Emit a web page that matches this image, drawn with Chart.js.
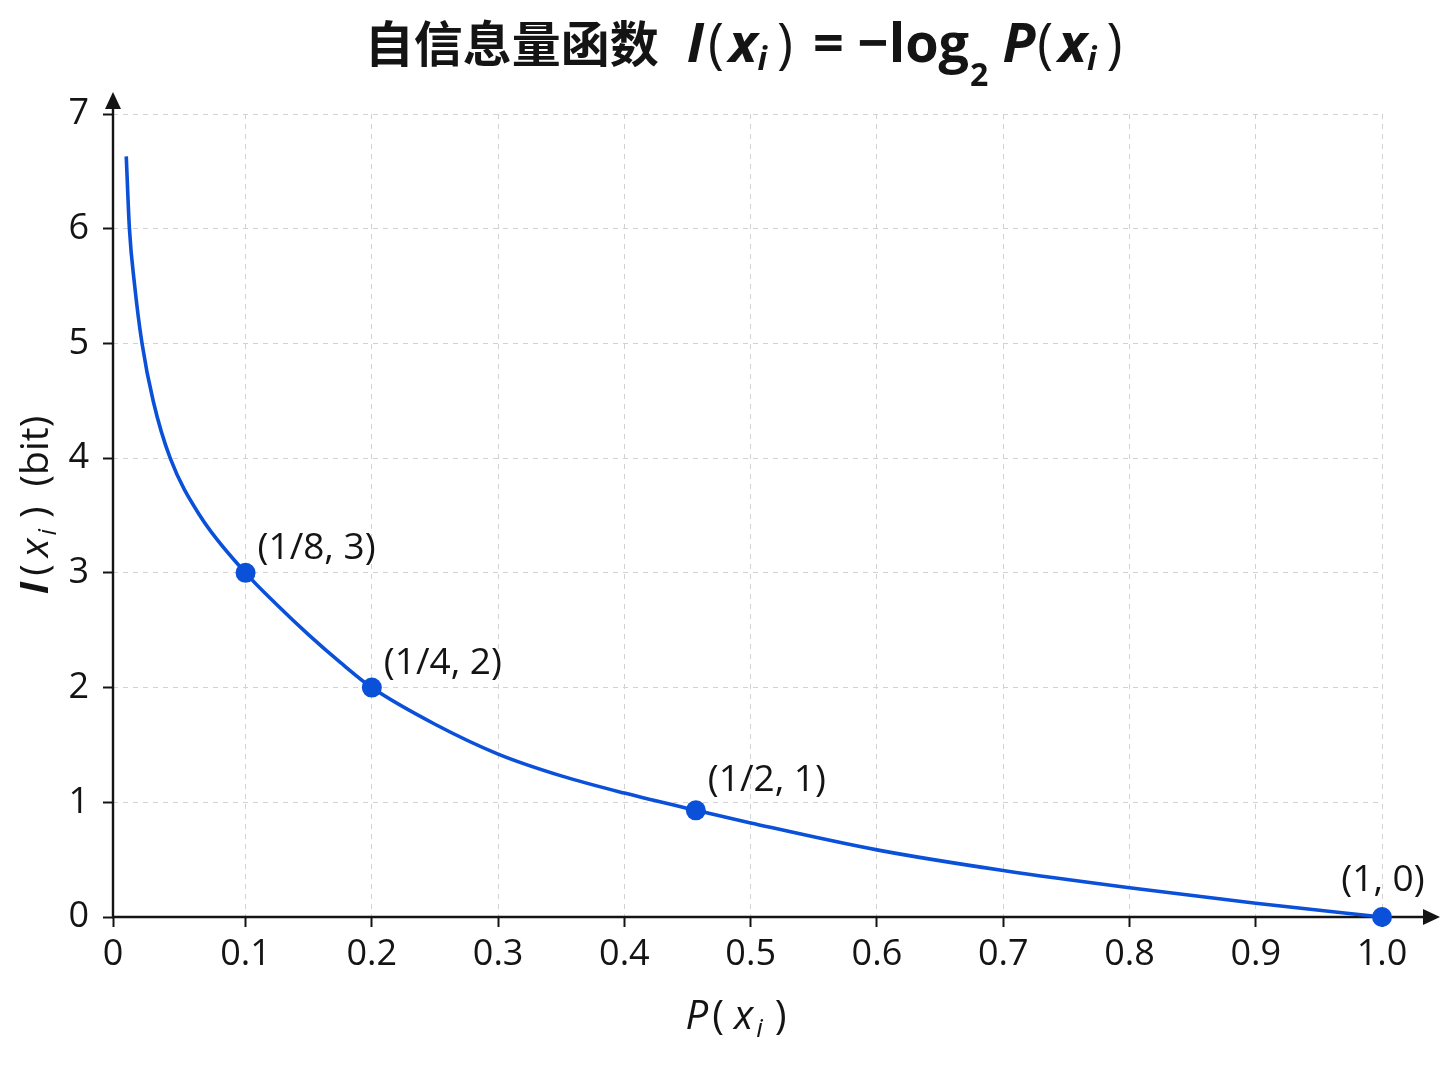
<!DOCTYPE html>
<html>
<head>
<meta charset="utf-8">
<script src="https://cdn.jsdelivr.net/npm/chart.js@4.4.1/dist/chart.umd.min.js"></script>
<style>
html,body{margin:0;padding:0;background:#fff;}
#wrap{width:1448px;height:1086px;}
</style>
</head>
<body>
<div id="wrap"><canvas id="c" width="1448" height="1086"></canvas></div>
<script>
// ---- data ----
const curveX = [0.0055, 0.008, 0.0122, 0.018, 0.0268, 0.0403, 0.0638, 0.1, 0.125, 0.15, 0.175, 0.2, 0.25, 0.3, 0.35, 0.4, 0.4566, 0.5, 0.6, 0.7, 0.8, 0.9, 1.0];
const curveY = [6.63, 6.0, 5.5, 5.0, 4.5, 4.0, 3.5, 3.0, 2.72, 2.46, 2.22, 2.0, 1.68, 1.42, 1.23, 1.08, 0.93, 0.82, 0.585, 0.405, 0.255, 0.12, 0.0];
const pointX = [0.1, 0.2, 0.4566, 1.0];
const pointY = [3, 2, 0.93, 0];
const pointLabels = ['(1/8, 3)', '(1/4, 2)', '(1/2, 1)', '(1, 0)'];
const xTickValues = [0, 0.1, 0.2, 0.3, 0.4, 0.5, 0.6, 0.7, 0.8, 0.9, 1.0];
const xTickLabels = ['0', '0.1', '0.2', '0.3', '0.4', '0.5', '0.6', '0.7', '0.8', '0.9', '1.0'];
const yTickLabels = ['0', '1', '2', '3', '4', '5', '6', '7'];
const titleCJK = '自信息量函数';

const BLUE = '#0a50d8';
const INK = '#141414';
const LATIN = '"Open Sans", "Noto Sans", sans-serif';

function drawRich(ctx, segs, x, y, align) {
  let total = 0;
  segs.forEach(s => { ctx.font = s.font; total += (s.gap || 0) + ctx.measureText(s.t).width; });
  let cx = align === 'center' ? x - total / 2 : x;
  ctx.textAlign = 'left';
  ctx.textBaseline = 'alphabetic';
  segs.forEach(s => {
    ctx.font = s.font;
    cx += (s.gap || 0);
    ctx.fillText(s.t, cx, y + (s.dy || 0));
    cx += ctx.measureText(s.t).width;
  });
}

const decor = {
  id: 'decor',
  beforeDatasetsDraw(chart) {
    const ctx = chart.ctx, a = chart.chartArea;
    const ys = chart.scales.y;
    const x0 = a.left, y0 = ys.getPixelForValue(0);
    ctx.save();
    ctx.strokeStyle = INK; ctx.fillStyle = INK; ctx.lineWidth = 2.4;
    // y axis with arrow
    ctx.beginPath(); ctx.moveTo(x0, y0 + 1); ctx.lineTo(x0, a.top - 6); ctx.stroke();
    ctx.beginPath(); ctx.moveTo(x0, a.top - 22); ctx.lineTo(x0 - 8, a.top - 5); ctx.lineTo(x0 + 8, a.top - 5); ctx.closePath(); ctx.fill();
    // x axis with arrow
    ctx.beginPath(); ctx.moveTo(x0 - 1, y0); ctx.lineTo(a.right + 42, y0); ctx.stroke();
    ctx.beginPath(); ctx.moveTo(a.right + 58, y0); ctx.lineTo(a.right + 41, y0 - 8); ctx.lineTo(a.right + 41, y0 + 8); ctx.closePath(); ctx.fill();
    ctx.restore();
  },
  afterDraw(chart) {
    const ctx = chart.ctx, a = chart.chartArea;
    ctx.save();
    ctx.fillStyle = INK;
    // title
    const F = 'bold 54px ' + LATIN, FI = 'italic bold 54px ' + LATIN, FP = '54px ' + LATIN;
    const SUB = 'italic bold 32px ' + LATIN, SUB2 = 'bold 32px ' + LATIN;
    drawRich(ctx, [
      {t: titleCJK, font: 'bold 49px "Noto Sans CJK SC", sans-serif', dy: 0},
      {t: 'I', font: FI, gap: 28},
      {t: '(', font: FP, gap: 4},
      {t: 'x', font: FI, gap: 5},
      {t: 'i', font: SUB, dy: 8, gap: 0},
      {t: ')', font: FP, gap: 10},
      {t: '=', font: F, gap: 20},
      {t: '\u2212log', font: F, gap: 14},
      {t: '2', font: SUB2, dy: 24, gap: 1},
      {t: 'P', font: FI, gap: 14},
      {t: '(', font: FP, gap: 2},
      {t: 'x', font: FI, gap: 5},
      {t: 'i', font: SUB, dy: 8, gap: 0},
      {t: ')', font: FP, gap: 10}
    ], (a.left + a.right) / 2 - 4, 62, 'center');

    // x axis title
    const XF = 'italic 40px ' + LATIN, XP = '40px ' + LATIN;
    drawRich(ctx, [
      {t: 'P', font: XF},
      {t: '(', font: XP, gap: 4},
      {t: 'x', font: XF, gap: 10},
      {t: 'i', font: 'italic 26px ' + LATIN, dy: 8, gap: 3},
      {t: ')', font: XP, gap: 12}
    ], 736, 1029, 'center');

    // y axis title (rotated)
    ctx.save();
    ctx.translate(35, 505);
    ctx.rotate(-Math.PI / 2);
    const YF = 'italic 39px ' + LATIN, YP = '39px ' + LATIN;
    drawRich(ctx, [
      {t: 'I', font: 'italic bold 39px ' + LATIN},
      {t: '(', font: YP, gap: 6},
      {t: 'x', font: YF, gap: 7},
      {t: 'i', font: 'italic 26px ' + LATIN, dy: 8, gap: 3},
      {t: ')', font: YP, gap: 11},
      {t: '(bit)', font: YP, gap: 20}
    ], 0, 13, 'center');
    ctx.restore();

    // point labels
    const meta = chart.getDatasetMeta(1);
    ctx.font = '37px ' + LATIN;
    ctx.textBaseline = 'middle';
    meta.data.forEach((el, i) => {
      if (i === pointLabels.length - 1) {
        ctx.textAlign = 'center';
        ctx.fillText(pointLabels[i], el.x + 1, el.y - 37);
      } else {
        ctx.textAlign = 'left';
        ctx.fillText(pointLabels[i], el.x + 12, el.y - (i === 2 ? 30 : 24));
      }
    });
    ctx.restore();
  }
};

new Chart(document.getElementById('c'), {
  type: 'scatter',
  data: {
    datasets: [
      {
        data: curveX.map((x, i) => ({x, y: curveY[i]})),
        showLine: true,
        borderColor: BLUE,
        borderWidth: 3.6,
        pointRadius: 0,
        cubicInterpolationMode: 'monotone',
        clip: false,
        order: 2
      },
      {
        data: pointX.map((x, i) => ({x, y: pointY[i]})),
        showLine: false,
        pointRadius: 10,
        backgroundColor: BLUE,
        borderWidth: 0,
        clip: false,
        order: 1
      }
    ]
  },
  options: {
    responsive: false,
    animation: false,
    devicePixelRatio: 1,
    layout: {padding: {left: 0, right: 66, top: 114, bottom: 0}},
    plugins: {legend: {display: false}, tooltip: {enabled: false}, title: {display: false}},
    scales: {
      x: {
        type: 'linear', min: -0.005, max: 1,
        afterFit: s => { s.height = 169; },
        afterBuildTicks: s => {
          s.ticks = xTickValues.map((v, i) => ({value: i === 0 ? s.min : v}));
        },
        ticks: {
          autoSkip: false, maxRotation: 0,
          callback: (v, i) => xTickLabels[i],
          font: {family: 'Open Sans', size: 36}, color: INK, padding: 6
        },
        grid: {
          color: c => (c.index === 0) ? 'rgba(0,0,0,0)' : '#d2d2d2',
          lineWidth: 1, tickLength: 10, tickColor: INK, tickWidth: 2
        },
        border: {display: false, dash: [5, 5]}
      },
      y: {
        type: 'linear', min: 0, max: 7,
        afterFit: s => { s.width = 113; },
        ticks: {
          stepSize: 1,
          callback: (v, i) => yTickLabels[i],
          font: {family: 'Open Sans', size: 36}, color: INK, padding: 14
        },
        grid: {
          color: c => (c.tick && c.tick.value === 0) ? 'rgba(0,0,0,0)' : '#d2d2d2',
          lineWidth: 1, tickLength: 10, tickColor: INK, tickWidth: 2
        },
        border: {display: false, dash: [5, 5]}
      }
    }
  },
  plugins: [decor]
});
</script>
</body>
</html>
